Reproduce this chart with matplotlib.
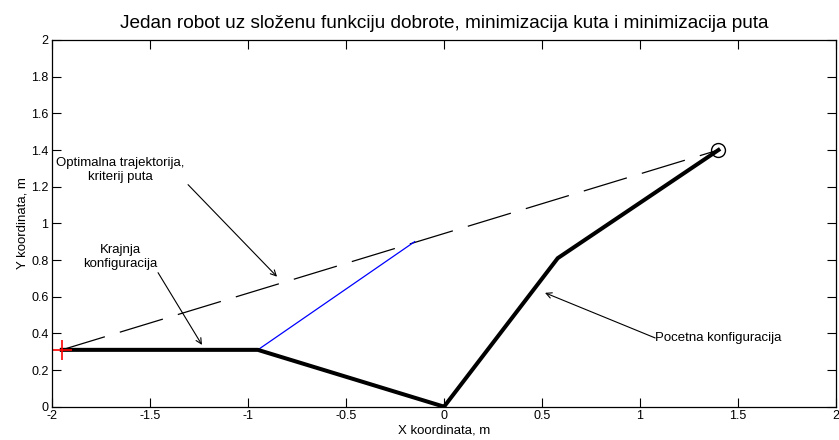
import matplotlib
matplotlib.use("Agg")
import matplotlib.pyplot as plt

plt.rcParams['font.family'] = ['Liberation Sans', 'DejaVu Sans']

# Robot configurations (base at origin, link length 1)
initial_x = [0.0, 0.58, 1.40]
initial_y = [0.0, 0.81, 1.40]
final_x = [0.0, -0.95, -1.95]
final_y = [0.0, 0.31, 0.31]
blue_x = [-0.95, -0.15]
blue_y = [0.31, 0.90]
path_x = [-1.95, 1.40]
path_y = [0.31, 1.40]
goal = (1.40, 1.40)
end_pt = (-1.95, 0.31)

title = "Jedan robot uz složenu funkciju dobrote, minimizacija kuta i minimizacija puta"
xticks = [-2, -1.5, -1, -0.5, 0, 0.5, 1, 1.5, 2]
xticklabels = ["-2", "-1.5", "-1", "-0.5", "0", "0.5", "1", "1.5", "2"]
yticks = [0, 0.2, 0.4, 0.6, 0.8, 1, 1.2, 1.4, 1.6, 1.8, 2]
yticklabels = ["0", "0.2", "0.4", "0.6", "0.8", "1", "1.2", "1.4", "1.6", "1.8", "2"]

fig = plt.figure(figsize=(8.39, 4.40), dpi=100)
ax = fig.add_axes([0.062, 0.0757, 0.9345, 0.8334])

ax.plot(path_x, path_y, color='black', lw=0.9, dashes=(36, 12.5))
ax.plot(blue_x, blue_y, color='blue', lw=0.9)
ax.plot(final_x, final_y, color='black', lw=2.9, solid_joinstyle='miter')
ax.plot(initial_x, initial_y, color='black', lw=2.9, solid_joinstyle='miter')
ax.plot([goal[0]], [goal[1]], marker='o', mfc='none', mec='black', ms=10, mew=1.0)
ax.plot([end_pt[0]], [end_pt[1]], marker='+', color='red', ms=14, mew=1.2)

ax.set_xlim(-2, 2)
ax.set_ylim(0, 2)
ax.set_xticks(xticks)
ax.set_xticklabels(xticklabels)
ax.set_yticks(yticks)
ax.set_yticklabels(yticklabels)
ax.tick_params(direction='in', length=6.5, width=0.8, top=True, right=True,
               labelsize=9, pad=2.5)
for s in ax.spines.values():
    s.set_linewidth(0.9)

ax.set_title(title, fontsize=13.7, pad=8.6)
ax.set_xlabel("X koordinata, m", fontsize=9.5, labelpad=2)
ax.set_ylabel("Y koordinata, m", fontsize=9.5, labelpad=2)

ap = dict(arrowstyle='->', color='black', lw=0.8, shrinkA=0, shrinkB=0)
# text labels
ax.text(-1.653, 1.29, "Optimalna trajektorija,\nkriterij puta", ha='center',
        va='center', fontsize=9.5)
ax.text(-1.653, 0.815, "Krajnja\nkonfiguracija", ha='center', va='center',
        fontsize=9.5)
ax.text(1.077, 0.375, "Pocetna konfiguracija", ha='left', va='center',
        fontsize=9.5)
# arrows (tip, start)
ax.annotate("", xy=(-0.852, 0.709), xytext=(-1.306, 1.211), arrowprops=ap)
ax.annotate("", xy=(-1.235, 0.337), xytext=(-1.459, 0.731), arrowprops=ap)
ax.annotate("", xy=(0.515, 0.621), xytext=(1.077, 0.375), arrowprops=ap)

fig.savefig("out.png", dpi=100)
